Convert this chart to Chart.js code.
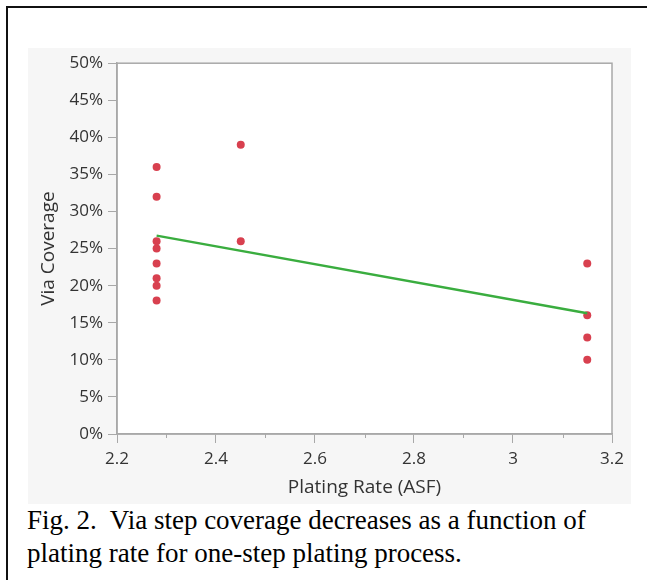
<!DOCTYPE html>
<html>
<head>
<meta charset="utf-8">
<script src="https://cdn.jsdelivr.net/npm/chart.js@4"></script>
<style>
  body { margin: 0; width: 647px; height: 580px; background: #fff; overflow: hidden; position: relative; }
  #frame { position: absolute; left: 6px; top: 6px; width: 700px; height: 700px;
           border-top: 2px solid #111; border-left: 2px solid #111; }
  #panel { position: absolute; left: 28px; top: 48px; width: 603px; height: 456px; background: #f6f6f6; }
  #caption { position: absolute; left: 27px; top: 504px; font-family: "Liberation Serif", serif;
             font-size: 27px; line-height: 33px; color: #000; white-space: pre; }
</style>
</head>
<body>
<div id="frame"></div>
<div id="panel"><canvas id="myChart" width="603" height="456"></canvas></div>
<div id="caption">Fig. 2.  Via step coverage decreases as a function of
plating rate for one-step plating process.</div>
<script>
// values (coverage in %)
const rateA = 2.28, coverA = [36, 32, 26, 25, 23, 21, 20, 18];
const rateB = 2.45, coverB = [39, 26];
const rateC = 3.15, coverC = [23, 16, 13, 10];
const fitRates = [2.28, 3.15];
const fitCover = [26.75, 16.27];
const xTicks = [2.2, 2.4, 2.6, 2.8, 3, 3.2];
const xMinor = [2.3, 2.5, 2.7, 2.9, 3.1];
const yTicks = [0, 5, 10, 15, 20, 25, 30, 35, 40, 45, 50];

const points = []
  .concat(coverA.map(v => ({x: rateA, y: v})))
  .concat(coverB.map(v => ({x: rateB, y: v})))
  .concat(coverC.map(v => ({x: rateC, y: v})));
const fit = fitRates.map((r, i) => ({x: r, y: fitCover[i]}));

const axisGray = '#a8a8a8';
const tickFont = {family: 'Open Sans', size: 17};
const titleFont = {family: 'Open Sans', size: 19};

// white plot box, its top/right edges and short minor ticks on x
const frame = {
    id: 'frame',
    beforeDraw(chart) {
        const {ctx, chartArea: a} = chart;
        ctx.save();
        ctx.fillStyle = '#fff';
        ctx.fillRect(a.left, a.top, a.right - a.left, a.bottom - a.top);
        ctx.restore();
    },
    afterDraw(chart) {
        const {ctx, chartArea: a, scales} = chart;
        ctx.save();
        ctx.strokeStyle = axisGray;
        ctx.lineWidth = 1.5;
        ctx.strokeRect(a.left, a.top, a.right - a.left, a.bottom - a.top);
        ctx.lineWidth = 1;
        xMinor.forEach(v => {
            const px = Math.round(scales.x.getPixelForValue(v)) + 0.5;
            ctx.beginPath();
            ctx.moveTo(px, a.bottom);
            ctx.lineTo(px, a.bottom + 4);
            ctx.stroke();
        });
        ctx.restore();
    }
};

const ctx = document.getElementById('myChart').getContext('2d');
const myChart = new Chart(ctx, {
    type: 'scatter',
    data: {
        datasets: [{
            data: fit,
            showLine: true,
            borderColor: '#3aad3f',
            borderWidth: 2.5,
            pointRadius: 0
        }, {
            data: points,
            backgroundColor: '#d8404f',
            borderWidth: 0,
            pointRadius: 4
        }]
    },
    options: {
        responsive: false,
        devicePixelRatio: 1,
        animation: false,
        layout: { padding: {top: 14, right: 19, left: 0, bottom: 0} },
        plugins: { legend: {display: false}, tooltip: {enabled: false} },
        scales: {
            x: {
                type: 'linear',
                min: 2.2,
                max: 3.2,
                afterBuildTicks: s => { s.ticks = xTicks.map(v => ({value: v})); },
                afterFit: s => { s.height = 70; },
                ticks: {
                    font: tickFont,
                    color: '#333',
                    padding: 6,
                    callback: v => String(v)
                },
                grid: { drawOnChartArea: false, tickLength: 9, tickColor: axisGray },
                border: { color: axisGray, width: 1.5 },
                title: {
                    display: true,
                    text: 'Plating Rate (ASF)',
                    font: titleFont,
                    color: '#333',
                    padding: {top: 0, bottom: 5}
                }
            },
            y: {
                min: 0,
                max: 50,
                afterBuildTicks: s => { s.ticks = yTicks.map(v => ({value: v})); },
                afterFit: s => { s.width = 89; },
                ticks: {
                    font: tickFont,
                    color: '#333',
                    padding: 5,
                    callback: v => v + '%'
                },
                grid: { drawOnChartArea: false, tickLength: 9, tickColor: axisGray },
                border: { color: axisGray, width: 1.5 },
                title: {
                    display: true,
                    text: 'Via Coverage',
                    font: titleFont,
                    color: '#333',
                    padding: {top: 9, bottom: 0}
                }
            }
        }
    },
    plugins: [frame]
});
</script>
</body>
</html>
